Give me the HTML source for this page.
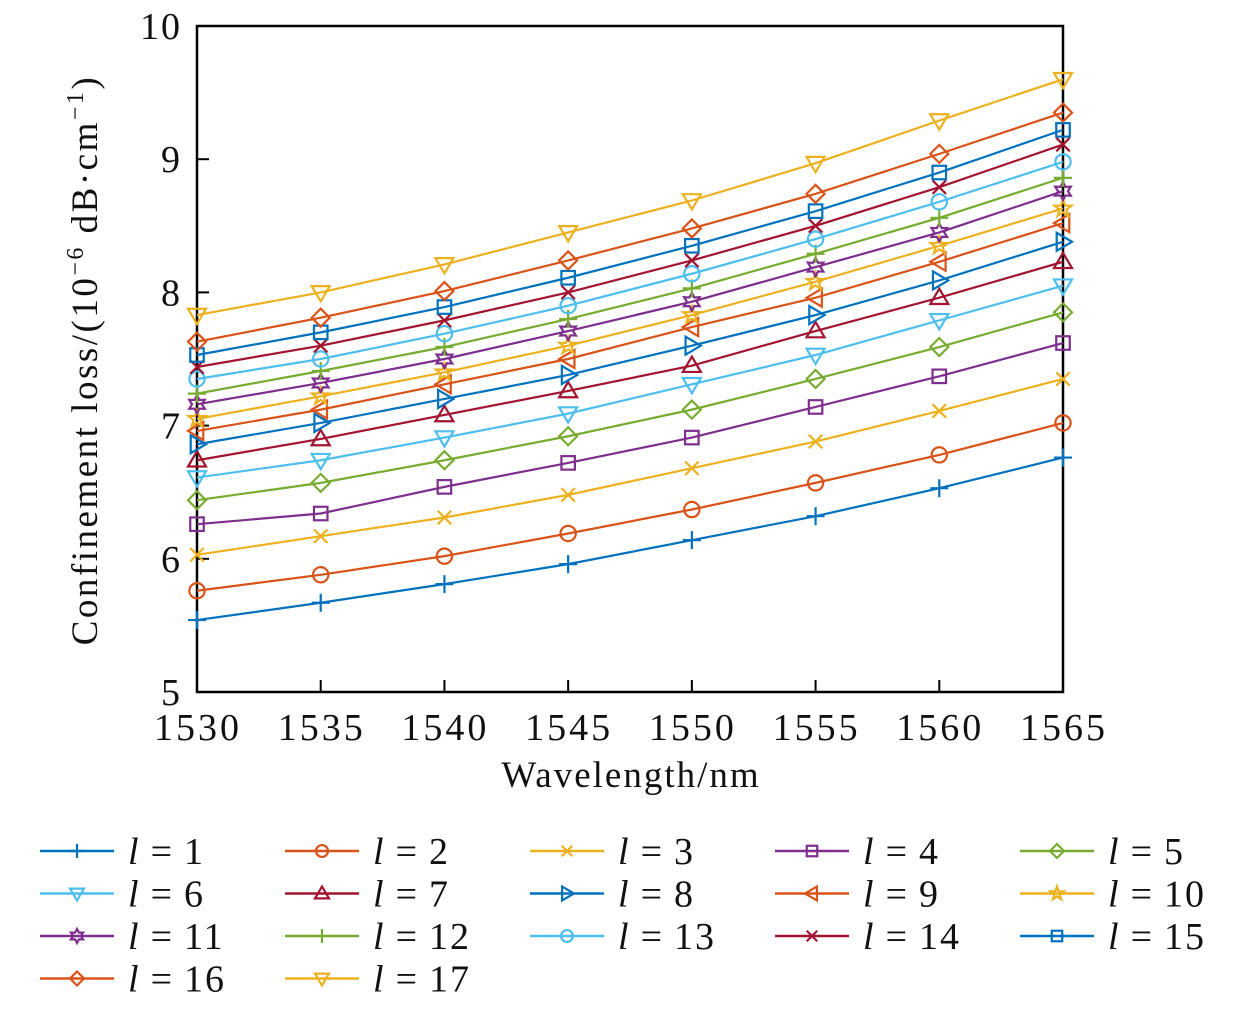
<!DOCTYPE html>
<html><head><meta charset="utf-8"><style>
body{margin:0;background:#fff;width:1260px;height:1006px;overflow:hidden}
svg text{font-family:"Liberation Serif",serif;fill:#111}
</style></head><body>
<svg id="chart" width="1260" height="1006" xmlns="http://www.w3.org/2000/svg"></svg>
<script>
const wavelengths=[1530,1535,1540,1545,1550,1555,1560,1565];
const xTicks=[1530,1535,1540,1545,1550,1555,1560,1565];
const yTicks=[5,6,7,8,9,10];
const s1=[5.54,5.67,5.81,5.96,6.14,6.32,6.53,6.76];
const s2=[5.76,5.88,6.02,6.19,6.37,6.57,6.78,7.02];
const s3=[6.03,6.17,6.31,6.48,6.68,6.88,7.11,7.35];
const s4=[6.26,6.34,6.54,6.72,6.91,7.14,7.37,7.62];
const s5=[6.44,6.57,6.74,6.92,7.12,7.35,7.59,7.85];
const s6=[6.61,6.74,6.91,7.09,7.31,7.53,7.79,8.05];
const s7=[6.74,6.90,7.08,7.26,7.45,7.71,7.96,8.23];
const s8=[6.86,7.02,7.20,7.38,7.60,7.83,8.09,8.38];
const s9=[6.96,7.12,7.31,7.50,7.74,7.96,8.23,8.52];
const s10=[7.05,7.22,7.40,7.60,7.83,8.08,8.35,8.63];
const s11=[7.16,7.32,7.50,7.71,7.93,8.19,8.45,8.76];
const s12=[7.24,7.41,7.59,7.80,8.03,8.29,8.56,8.86];
const s13=[7.35,7.50,7.69,7.90,8.14,8.40,8.68,8.98];
const s14=[7.44,7.60,7.79,8.00,8.24,8.50,8.79,9.11];
const s15=[7.53,7.70,7.89,8.11,8.35,8.61,8.90,9.22];
const s16=[7.63,7.81,8.01,8.24,8.48,8.74,9.04,9.35];
const s17=[7.83,8.00,8.21,8.45,8.69,8.97,9.29,9.60];
const seriesList=[s1,s2,s3,s4,s5,s6,s7,s8,s9,s10,s11,s12,s13,s14,s15,s16,s17];
const colors=["#0072BD","#D95319","#EDB120","#7E2F8E","#77AC30","#4DBEEE","#A2142F"];
const markers=["plus","circle","x","square","diamond","tdown","tup","tright","tleft","star","hex","plus","circle","x","square","diamond","tdown"];

const NS="http://www.w3.org/2000/svg";
const svg=document.getElementById('chart');
const X0=197,X1=1063,Y0=692,Y1=26;
const xs=v=>X0+(v-1530)/(1565-1530)*(X1-X0);
const ys=v=>Y0-(v-5)/(10-5)*(Y0-Y1);
function el(t,a,p){const e=document.createElementNS(NS,t);for(const k in a)e.setAttribute(k,a[k]);(p||svg).appendChild(e);return e;}

function marker(g,type,cx,cy,r,color){
  const st={fill:"none",stroke:color,"stroke-width":2.2};
  let e;
  const pts=a=>a.map(p=>(cx+p[0]*r)+","+(cy+p[1]*r)).join(" ");
  if(type==="plus") e=el("path",Object.assign({d:`M${cx-r},${cy}H${cx+r}M${cx},${cy-r}V${cy+r}`},st),g);
  else if(type==="x"){const q=r*0.75;e=el("path",Object.assign({d:`M${cx-q},${cy-q}L${cx+q},${cy+q}M${cx-q},${cy+q}L${cx+q},${cy-q}`},st),g);}
  else if(type==="circle") e=el("circle",Object.assign({cx,cy,r:r*0.85},st),g);
  else if(type==="square") e=el("rect",Object.assign({x:cx-r*0.75,y:cy-r*0.75,width:r*1.5,height:r*1.5},st),g);
  else if(type==="diamond") e=el("polygon",Object.assign({points:pts([[0,-1],[1,0],[0,1],[-1,0]])},st),g);
  else if(type==="tdown") e=el("polygon",Object.assign({points:pts([[-1,-0.7],[1,-0.7],[0,1]])},st),g);
  else if(type==="tup") e=el("polygon",Object.assign({points:pts([[-1,0.7],[1,0.7],[0,-1]])},st),g);
  else if(type==="tright") e=el("polygon",Object.assign({points:pts([[-0.7,-1],[-0.7,1],[1,0]])},st),g);
  else if(type==="tleft") e=el("polygon",Object.assign({points:pts([[0.7,-1],[0.7,1],[-1,0]])},st),g);
  else if(type==="star"){const a=[];for(let i=0;i<10;i++){const ang=-Math.PI/2+i*Math.PI/5,rr=i%2?0.4:1;a.push([Math.cos(ang)*rr,Math.sin(ang)*rr]);}e=el("polygon",Object.assign({points:pts(a)},st),g);}
  else if(type==="hex"){const a=[];for(let i=0;i<12;i++){const ang=-Math.PI/2+i*Math.PI/6,rr=i%2?0.55:1;a.push([Math.cos(ang)*rr,Math.sin(ang)*rr]);}e=el("polygon",Object.assign({points:pts(a)},st),g);}
  return e;
}

const box=el("rect",{x:X0,y:Y1,width:X1-X0,height:Y0-Y1,fill:"none",stroke:"#000","stroke-width":2.5});


yTicks.forEach(v=>{
  const t=el("text",{x:182,y:ys(v)+13,"text-anchor":"end","font-size":38,"letter-spacing":2});t.textContent=v;
  
  
  if(v>5&&v<10){el("line",{x1:X0,x2:X0+12,y1:ys(v),y2:ys(v),stroke:"#000","stroke-width":2});}
});
xTicks.forEach(v=>{
  const t=el("text",{x:xs(v)+1,y:740,"text-anchor":"middle","font-size":38,"letter-spacing":3});t.textContent=v;
  
  
  if(v>1530&&v<1565){el("line",{x1:xs(v),x2:xs(v),y1:Y0,y2:Y0-12,stroke:"#000","stroke-width":2});}
});
const xt=el("text",{x:631,y:787,"text-anchor":"middle","font-size":37,"letter-spacing":2});xt.textContent="Wavelength/nm";


const yt=el("text",{x:0,y:0,"text-anchor":"middle","font-size":37,"letter-spacing":2.5,transform:"translate(97,360) rotate(-90)"});
yt.innerHTML='Confinement  loss/(10<tspan dy="-14" font-size="24">−6</tspan><tspan dy="14"> dB·cm</tspan><tspan dy="-14" font-size="24">−1</tspan><tspan dy="14">)</tspan>';



seriesList.forEach((s,i)=>{
  const c=colors[i%7];
  const g=el("g",{});
  
  
  el("polyline",{points:s.map((v,j)=>xs(wavelengths[j])+","+ys(v)).join(" "),fill:"none",stroke:c,"stroke-width":2.2},g);
  s.forEach((v,j)=>{const m=marker(g,markers[i],xs(wavelengths[j]),ys(v),9,c);
    
    });
  const col=i%5,row=Math.floor(i/5);
  const lx=40+col*245,ly=851+row*42.5;
  const lg=el("g",{});
  
  
  el("line",{x1:lx,x2:lx+74,y1:ly,y2:ly,stroke:c,"stroke-width":2.5},lg);
  marker(lg,markers[i],lx+37,ly,7,c);
  const t=el("text",{x:lx+88,y:ly+13,"font-size":38,"letter-spacing":2},lg);
  t.innerHTML='<tspan font-style="italic">l</tspan><tspan dx="10">=</tspan><tspan dx="10">'+(i+1)+'</tspan>';
});
</script>
</body></html>
